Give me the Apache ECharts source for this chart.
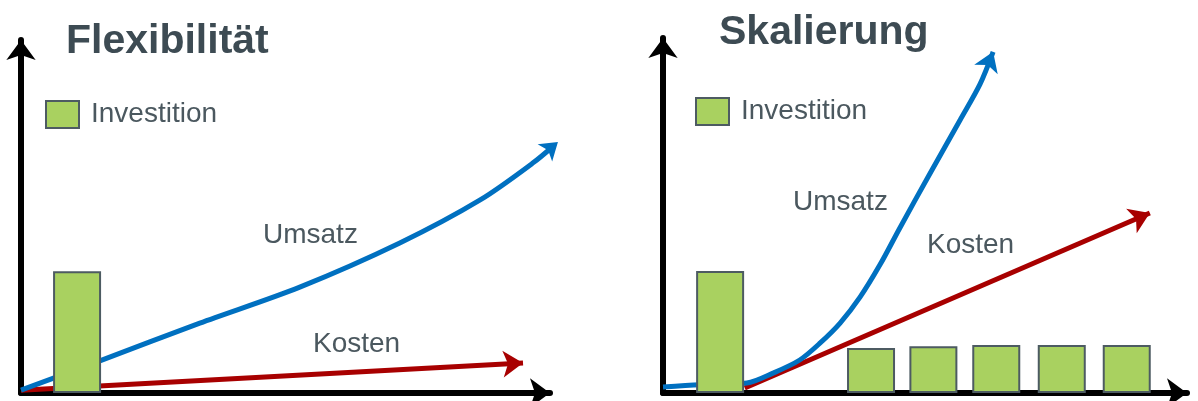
<!DOCTYPE html>
<html>
<head>
<meta charset="utf-8">
<script src="https://cdn.jsdelivr.net/npm/echarts@6/dist/echarts.min.js"></script>
<style>
  html, body { margin: 0; padding: 0; background: #fff; }
  #chart { width: 1198px; height: 401px; }
</style>
</head>
<body>
<div id="chart"></div>
<script>
// left panel: Flexibilität  (x: Zeit 0..10, y: Betrag 0..100)
var flexInvest = [[1.06, 34.5]];
var flexUmsatz = [[0, 0.8], [1.49, 9.1], [3.38, 19.8], [5.27, 30.0], [7.16, 42.5], [8.68, 54.7], [9.68, 65.2], [10.15, 71.1]];
var flexKosten = [[0, 0.8], [9.49, 8.5]];

// right panel: Skalierung
var skalInvest = [[1.09, 34.4], [3.97, 12.7], [5.16, 13.2], [6.36, 13.5], [7.61, 13.5], [8.85, 13.5]];
var skalUmsatz = [[0, 1.7], [0.71, 2.3], [1.6, 2.8], [2.1, 5.6], [2.61, 9.3], [3.0, 14.1], [3.38, 19.7], [3.76, 27.0],
  [4.14, 36.1], [4.52, 46.5], [5.09, 61.7], [5.67, 76.9], [6.05, 87.0], [6.3, 96.1]];
var skalKosten = [[1.56, 1.4], [9.29, 50.7]];

var titles = ["Flexibilität", "Skalierung"];
var legendName = "Investition";

var blue = "#0070c0";
var red = "#a80000";
var green = "#a9d160";
var border = "#4d5b62";
var textColor = "#4b585f";
var font = "Liberation Sans";

var chart = echarts.init(document.getElementById("chart"));

function axis(max, gridIndex) {
  return {
    type: "value",
    gridIndex: gridIndex,
    min: 0,
    max: max,
    axisLine: {
      show: true,
      symbol: ["none", "arrow"],
      symbolSize: [22, 20],
      lineStyle: { color: "#000", width: 6 }
    },
    axisTick: { show: false },
    axisLabel: { show: false },
    splitLine: { show: false }
  };
}

function line(name, data, color, idx, smooth) {
  return {
    name: name,
    type: "line",
    xAxisIndex: idx,
    yAxisIndex: idx,
    data: data,
    smooth: smooth,
    clip: false,
    showSymbol: false,
    silent: true,
    z: color === blue ? 3 : 2,
    lineStyle: { color: color, width: 5 }
  };
}

// arrow heads, rotated after the first layout
var heads = [
  { id: "h0", data: flexKosten, color: red, idx: 0, size: [20, 20] },
  { id: "h1", data: flexUmsatz, color: blue, idx: 0, size: [17, 17] },
  { id: "h2", data: skalKosten, color: red, idx: 1, size: [20, 20] },
  { id: "h3", data: skalUmsatz, color: blue, idx: 1, size: [19, 19] }
];

function head(h) {
  return {
    id: h.id,
    type: "scatter",
    xAxisIndex: h.idx,
    yAxisIndex: h.idx,
    data: [h.data[h.data.length - 1]],
    symbol: "arrow",
    symbolSize: h.size,
    clip: false,
    silent: true,
    z: h.color === blue ? 3 : 2,
    itemStyle: { color: h.color, opacity: 1 }
  };
}

function bars(data, idx) {
  return {
    name: legendName,
    type: "bar",
    xAxisIndex: idx,
    yAxisIndex: idx,
    data: data,
    barWidth: 48,
    z: 4,
    silent: true,
    itemStyle: { color: green, borderColor: border, borderWidth: 2 }
  };
}

function legend(left, top) {
  return {
    data: [legendName],
    left: left,
    top: top,
    padding: 0,
    icon: "rect",
    itemWidth: 33,
    itemHeight: 27,
    selectedMode: false,
    itemStyle: { color: green, borderColor: border, borderWidth: 2 },
    textStyle: { color: textColor, fontSize: 28, fontFamily: font, padding: [0, 0, 0, 7] }
  };
}

function label(text, x, y, size, bold, color) {
  return {
    type: "text",
    x: x,
    y: y,
    style: {
      text: text,
      fill: color,
      font: (bold ? "bold " : "") + size + "px '" + font + "'",
      textAlign: "left",
      textVerticalAlign: "middle"
    }
  };
}

chart.setOption({
  animation: false,
  grid: [
    { left: 21, top: 40, width: 529, height: 353 },
    { left: 663, top: 38, width: 524, height: 355 }
  ],
  xAxis: [axis(10, 0), axis(10, 1)],
  yAxis: [axis(100, 0), axis(100, 1)],
  legend: [legend(45, 100), legend(695, 97)],
  graphic: [
    label(titles[0], 66, 42, 41, true, "#3d4b53"),
    label(titles[1], 719, 33, 41, true, "#3d4b53"),
    label("Umsatz", 263, 235, 28, false, textColor),
    label("Kosten", 313, 344, 28, false, textColor),
    label("Umsatz", 793, 202, 28, false, textColor),
    label("Kosten", 927, 245, 28, false, textColor)
  ],
  series: [
    line("Kosten", flexKosten, red, 0, false),
    line("Umsatz", flexUmsatz, blue, 0, 0.3),
    bars(flexInvest, 0),
    line("Kosten", skalKosten, red, 1, false),
    line("Umsatz", skalUmsatz, blue, 1, 0.3),
    bars(skalInvest, 1)
  ].concat(heads.map(head))
});

// point each arrow head along its last segment
chart.setOption({
  series: heads.map(function (h) {
    var n = h.data.length;
    var a = chart.convertToPixel({ gridIndex: h.idx }, h.data[n - 2]);
    var b = chart.convertToPixel({ gridIndex: h.idx }, h.data[n - 1]);
    var dx = b[0] - a[0], dy = b[1] - a[1];
    return {
      id: h.id,
      symbolRotate: Math.atan2(-dx, -dy) * 180 / Math.PI
    };
  })
});
</script>
</body>
</html>
